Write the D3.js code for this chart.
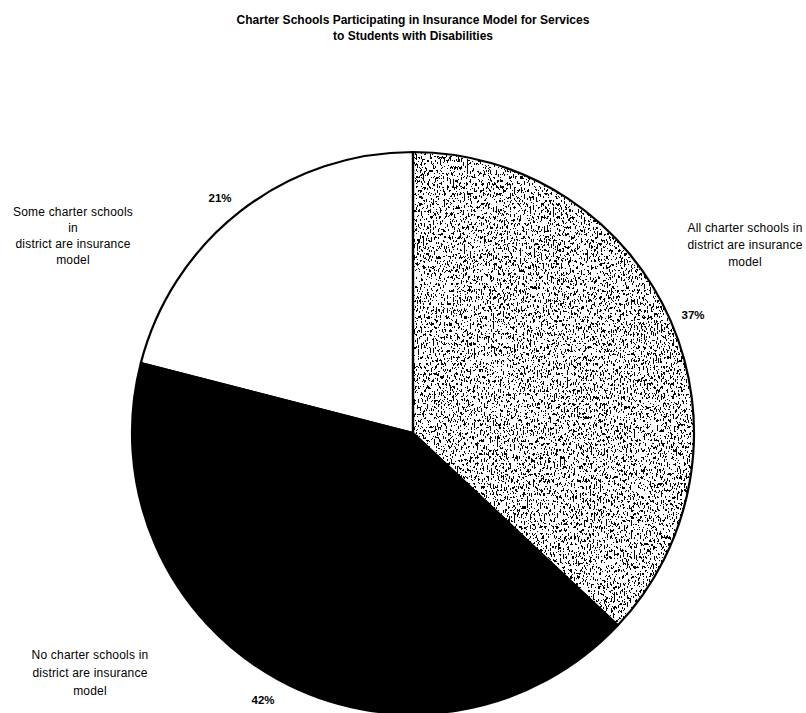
<!DOCTYPE html>
<html>
<head>
<meta charset="utf-8">
<script src="https://cdn.jsdelivr.net/npm/d3@7"></script>
<style>
  html, body { margin: 0; padding: 0; background: #fff; }
  svg { display: block; }
  text { font-family: "Liberation Sans", Arial, sans-serif; fill: #000; }
</style>
</head>
<body>
<svg id="chart" width="806" height="713"></svg>
<script>
const titleLines = [
  "Charter Schools Participating in Insurance Model for Services",
  "to Students with Disabilities"
];
const categories = [
  "All charter schools in district are insurance model",
  "No charter schools in district are insurance model",
  "Some charter schools in district are insurance model"
];
const values = [37, 42, 21];
const pctLabels = ["37%", "42%", "21%"];
const labelLines = [
  ["All charter schools in", "district are insurance", "model"],
  ["No charter schools in", "district are insurance", "model"],
  ["Some charter schools", "in", "district are insurance", "model"]
];
const fills = ["stipple", "#000", "#fff"];

const W = 806, H = 713;
const cx = 413, cy = 433, R = 281;
const svg = d3.select("#chart");

// stipple filter
const defs = svg.append("defs");
const f = defs.append("filter").attr("id", "stip")
  .attr("x", 0).attr("y", 0).attr("width", 1).attr("height", 1)
  .attr("filterUnits", "objectBoundingBox");
f.append("feTurbulence").attr("type", "fractalNoise")
  .attr("baseFrequency", "0.7 0.3").attr("numOctaves", 3).attr("seed", 11).attr("result", "n");
f.append("feColorMatrix").attr("type", "matrix")
  .attr("values", "0 0 0 0 0  0 0 0 0 0  0 0 0 0 0  1.6 0 0 0 -0.46");
const ct = f.append("feComponentTransfer");
ct.append("feFuncA").attr("type", "discrete").attr("tableValues", "0 0 0 0 1 1 1 1");

const pie = d3.pie().sort(null).value(d => d)
  .startAngle(0).endAngle(2 * Math.PI);
const arcs = pie(values);
const arc = d3.arc().innerRadius(0).outerRadius(R);

const g = svg.append("g").attr("transform", `translate(${cx},${cy})`);

arcs.forEach((a, i) => {
  if (fills[i] === "stipple") {
    const cid = "clip" + i;
    defs.append("clipPath").attr("id", cid)
      .append("path").attr("d", arc(a));
    g.append("path").attr("d", arc(a)).attr("fill", "#fff");
    g.append("g").attr("clip-path", `url(#${cid})`)
      .append("rect").attr("x", -R).attr("y", -R)
      .attr("width", 2 * R).attr("height", 2 * R)
      .attr("fill", "#000").attr("filter", "url(#stip)");
  } else {
    g.append("path").attr("d", arc(a)).attr("fill", fills[i]);
  }
});
// slice borders
g.selectAll("path.border").data(arcs).enter().append("path")
  .attr("class", "border")
  .attr("d", arc)
  .attr("fill", "none")
  .attr("stroke", "#000")
  .attr("stroke-width", 2.2)
  .attr("stroke-linejoin", "round");

// title
svg.append("g").selectAll("text").data(titleLines).enter().append("text")
  .attr("x", 413).attr("y", (d, i) => 24 + i * 16)
  .attr("text-anchor", "middle")
  .attr("font-size", 12).attr("font-weight", "bold")
  .text(d => d);

// category labels (positions in page coordinates)
const labelPos = [
  { x: 745, y: 232, pct: [693, 319] },
  { x: 90, y: 659, pct: [263, 704] },
  { x: 73, y: 216, pct: [220, 202] }
];
const lineGap = [17, 18, 16];
labelLines.forEach((lines, i) => {
  const p = labelPos[i];
  const t = svg.append("text").attr("text-anchor", "middle")
    .attr("font-size", 12).attr("letter-spacing", 0.2);
  lines.forEach((ln, j) => {
    t.append("tspan").attr("x", p.x).attr("y", p.y + j * lineGap[i]).text(ln);
  });
  svg.append("text").attr("x", p.pct[0]).attr("y", p.pct[1])
    .attr("text-anchor", "middle").attr("font-size", 11.5)
    .attr("font-weight", "bold").text(pctLabels[i]);
});
</script>
</body>
</html>
